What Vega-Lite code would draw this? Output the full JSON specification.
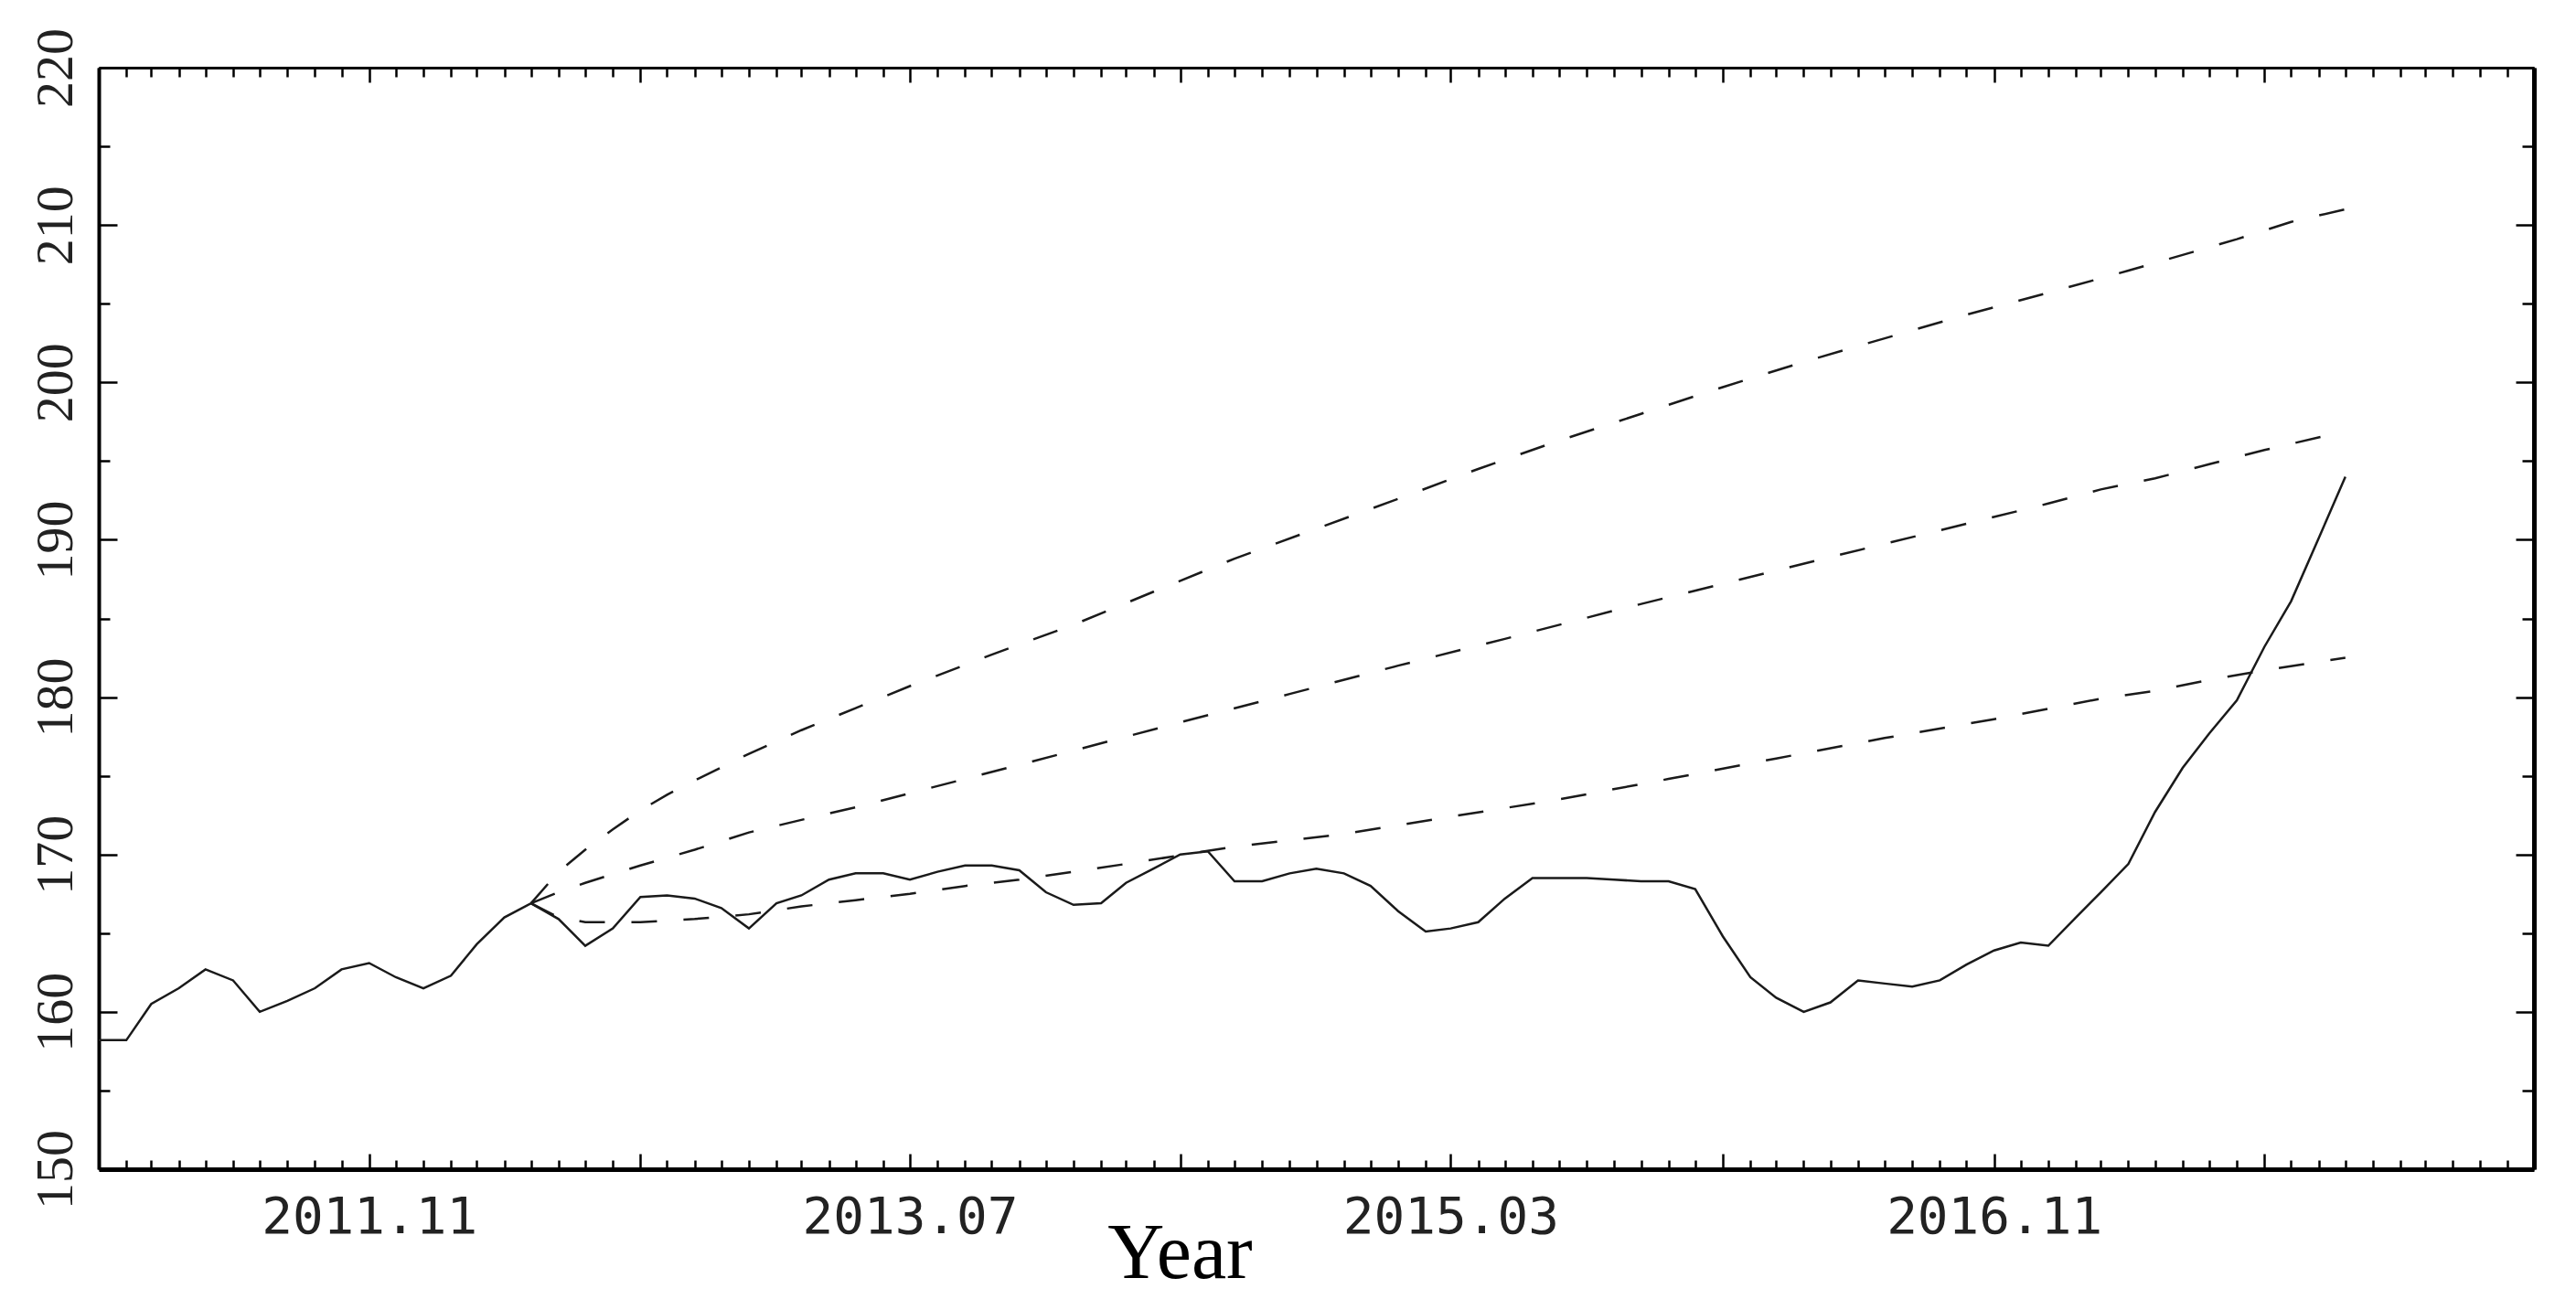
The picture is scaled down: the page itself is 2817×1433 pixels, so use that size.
{
  "$schema": "https://vega.github.io/schema/vega-lite/v6.json",
  "autosize": {"type": "none"},
  "padding": {"left": 108, "top": 74, "right": 46, "bottom": 154},
  "width": 2663,
  "height": 1205,
  "background": "white",
  "config": {"view": {"stroke": null}},
  "data": {"values": [
    {"series":"Actual","date":"2011-01-01","value":158.2},
    {"series":"Actual","date":"2011-02-01","value":158.2},
    {"series":"Actual","date":"2011-03-01","value":160.5},
    {"series":"Actual","date":"2011-04-01","value":161.5},
    {"series":"Actual","date":"2011-05-01","value":162.7},
    {"series":"Actual","date":"2011-06-01","value":162.0},
    {"series":"Actual","date":"2011-07-01","value":160.0},
    {"series":"Actual","date":"2011-08-01","value":160.7},
    {"series":"Actual","date":"2011-09-01","value":161.5},
    {"series":"Actual","date":"2011-10-01","value":162.7},
    {"series":"Actual","date":"2011-11-01","value":163.1},
    {"series":"Actual","date":"2011-12-01","value":162.2},
    {"series":"Actual","date":"2012-01-01","value":161.5},
    {"series":"Actual","date":"2012-02-01","value":162.3},
    {"series":"Actual","date":"2012-03-01","value":164.3},
    {"series":"Actual","date":"2012-04-01","value":166.0},
    {"series":"Actual","date":"2012-05-01","value":166.9},
    {"series":"Actual","date":"2012-06-01","value":165.9},
    {"series":"Actual","date":"2012-07-01","value":164.2},
    {"series":"Actual","date":"2012-08-01","value":165.3},
    {"series":"Actual","date":"2012-09-01","value":167.3},
    {"series":"Actual","date":"2012-10-01","value":167.4},
    {"series":"Actual","date":"2012-11-01","value":167.2},
    {"series":"Actual","date":"2012-12-01","value":166.6},
    {"series":"Actual","date":"2013-01-01","value":165.3},
    {"series":"Actual","date":"2013-02-01","value":166.9},
    {"series":"Actual","date":"2013-03-01","value":167.4},
    {"series":"Actual","date":"2013-04-01","value":168.4},
    {"series":"Actual","date":"2013-05-01","value":168.8},
    {"series":"Actual","date":"2013-06-01","value":168.8},
    {"series":"Actual","date":"2013-07-01","value":168.4},
    {"series":"Actual","date":"2013-08-01","value":168.9},
    {"series":"Actual","date":"2013-09-01","value":169.3},
    {"series":"Actual","date":"2013-10-01","value":169.3},
    {"series":"Actual","date":"2013-11-01","value":169.0},
    {"series":"Actual","date":"2013-12-01","value":167.6},
    {"series":"Actual","date":"2014-01-01","value":166.8},
    {"series":"Actual","date":"2014-02-01","value":166.9},
    {"series":"Actual","date":"2014-03-01","value":168.2},
    {"series":"Actual","date":"2014-04-01","value":169.1},
    {"series":"Actual","date":"2014-05-01","value":170.0},
    {"series":"Actual","date":"2014-06-01","value":170.2},
    {"series":"Actual","date":"2014-07-01","value":168.3},
    {"series":"Actual","date":"2014-08-01","value":168.3},
    {"series":"Actual","date":"2014-09-01","value":168.8},
    {"series":"Actual","date":"2014-10-01","value":169.1},
    {"series":"Actual","date":"2014-11-01","value":168.8},
    {"series":"Actual","date":"2014-12-01","value":168.0},
    {"series":"Actual","date":"2015-01-01","value":166.4},
    {"series":"Actual","date":"2015-02-01","value":165.1},
    {"series":"Actual","date":"2015-03-01","value":165.3},
    {"series":"Actual","date":"2015-04-01","value":165.7},
    {"series":"Actual","date":"2015-05-01","value":167.2},
    {"series":"Actual","date":"2015-06-01","value":168.5},
    {"series":"Actual","date":"2015-07-01","value":168.5},
    {"series":"Actual","date":"2015-08-01","value":168.5},
    {"series":"Actual","date":"2015-09-01","value":168.4},
    {"series":"Actual","date":"2015-10-01","value":168.3},
    {"series":"Actual","date":"2015-11-01","value":168.3},
    {"series":"Actual","date":"2015-12-01","value":167.8},
    {"series":"Actual","date":"2016-01-01","value":164.8},
    {"series":"Actual","date":"2016-02-01","value":162.2},
    {"series":"Actual","date":"2016-03-01","value":160.9},
    {"series":"Actual","date":"2016-04-01","value":160.0},
    {"series":"Actual","date":"2016-05-01","value":160.6},
    {"series":"Actual","date":"2016-06-01","value":162.0},
    {"series":"Actual","date":"2016-07-01","value":161.8},
    {"series":"Actual","date":"2016-08-01","value":161.6},
    {"series":"Actual","date":"2016-09-01","value":162.0},
    {"series":"Actual","date":"2016-10-01","value":163.0},
    {"series":"Actual","date":"2016-11-01","value":163.9},
    {"series":"Actual","date":"2016-12-01","value":164.4},
    {"series":"Actual","date":"2017-01-01","value":164.2},
    {"series":"Actual","date":"2017-02-01","value":166.0},
    {"series":"Actual","date":"2017-03-01","value":167.6},
    {"series":"Actual","date":"2017-04-01","value":169.4},
    {"series":"Actual","date":"2017-05-01","value":172.7},
    {"series":"Actual","date":"2017-06-01","value":175.5},
    {"series":"Actual","date":"2017-07-01","value":177.7},
    {"series":"Actual","date":"2017-08-01","value":179.8},
    {"series":"Actual","date":"2017-09-01","value":183.2},
    {"series":"Actual","date":"2017-10-01","value":186.1},
    {"series":"Actual","date":"2017-11-01","value":190.1},
    {"series":"Actual","date":"2017-12-01","value":194.0},

    {"series":"Upper","date":"2012-05-01","value":166.9},
    {"series":"Upper","date":"2012-06-01","value":168.9},
    {"series":"Upper","date":"2012-07-01","value":170.3},
    {"series":"Upper","date":"2012-08-01","value":171.6},
    {"series":"Upper","date":"2012-09-01","value":172.8},
    {"series":"Upper","date":"2012-10-01","value":173.8},
    {"series":"Upper","date":"2012-11-01","value":174.7},
    {"series":"Upper","date":"2013-01-01","value":176.4},
    {"series":"Upper","date":"2013-03-01","value":177.9},
    {"series":"Upper","date":"2013-05-01","value":179.3},
    {"series":"Upper","date":"2013-07-01","value":180.7},
    {"series":"Upper","date":"2013-10-01","value":182.7},
    {"series":"Upper","date":"2014-01-01","value":184.6},
    {"series":"Upper","date":"2014-04-01","value":186.7},
    {"series":"Upper","date":"2014-07-01","value":188.8},
    {"series":"Upper","date":"2014-10-01","value":190.7},
    {"series":"Upper","date":"2015-01-01","value":192.6},
    {"series":"Upper","date":"2015-04-01","value":194.5},
    {"series":"Upper","date":"2015-07-01","value":196.3},
    {"series":"Upper","date":"2015-10-01","value":198.0},
    {"series":"Upper","date":"2016-01-01","value":199.7},
    {"series":"Upper","date":"2016-04-01","value":201.3},
    {"series":"Upper","date":"2016-07-01","value":202.8},
    {"series":"Upper","date":"2016-10-01","value":204.3},
    {"series":"Upper","date":"2017-01-01","value":205.7},
    {"series":"Upper","date":"2017-04-01","value":207.1},
    {"series":"Upper","date":"2017-06-01","value":208.1},
    {"series":"Upper","date":"2017-08-01","value":209.1},
    {"series":"Upper","date":"2017-10-01","value":210.2},
    {"series":"Upper","date":"2017-12-01","value":211.0},

    {"series":"Middle","date":"2012-05-01","value":166.9},
    {"series":"Middle","date":"2012-06-01","value":167.6},
    {"series":"Middle","date":"2012-07-01","value":168.2},
    {"series":"Middle","date":"2012-09-01","value":169.3},
    {"series":"Middle","date":"2012-11-01","value":170.3},
    {"series":"Middle","date":"2013-01-01","value":171.4},
    {"series":"Middle","date":"2013-03-01","value":172.2},
    {"series":"Middle","date":"2013-05-01","value":173.0},
    {"series":"Middle","date":"2013-09-01","value":174.8},
    {"series":"Middle","date":"2014-01-01","value":176.6},
    {"series":"Middle","date":"2014-05-01","value":178.4},
    {"series":"Middle","date":"2014-09-01","value":180.2},
    {"series":"Middle","date":"2015-01-01","value":182.0},
    {"series":"Middle","date":"2015-05-01","value":183.7},
    {"series":"Middle","date":"2015-09-01","value":185.5},
    {"series":"Middle","date":"2016-01-01","value":187.2},
    {"series":"Middle","date":"2016-05-01","value":188.9},
    {"series":"Middle","date":"2016-09-01","value":190.6},
    {"series":"Middle","date":"2017-01-01","value":192.3},
    {"series":"Middle","date":"2017-03-01","value":193.2},
    {"series":"Middle","date":"2017-05-01","value":193.9},
    {"series":"Middle","date":"2017-07-01","value":194.8},
    {"series":"Middle","date":"2017-09-01","value":195.7},
    {"series":"Middle","date":"2017-12-01","value":196.9},

    {"series":"Lower","date":"2012-05-01","value":166.9},
    {"series":"Lower","date":"2012-06-01","value":166.0},
    {"series":"Lower","date":"2012-07-01","value":165.7},
    {"series":"Lower","date":"2012-09-01","value":165.7},
    {"series":"Lower","date":"2012-11-01","value":165.9},
    {"series":"Lower","date":"2013-01-01","value":166.2},
    {"series":"Lower","date":"2013-03-01","value":166.7},
    {"series":"Lower","date":"2013-05-01","value":167.1},
    {"series":"Lower","date":"2013-07-01","value":167.5},
    {"series":"Lower","date":"2013-09-01","value":168.0},
    {"series":"Lower","date":"2013-11-01","value":168.4},
    {"series":"Lower","date":"2014-01-01","value":168.9},
    {"series":"Lower","date":"2014-03-01","value":169.4},
    {"series":"Lower","date":"2014-07-01","value":170.5},
    {"series":"Lower","date":"2014-11-01","value":171.3},
    {"series":"Lower","date":"2015-03-01","value":172.4},
    {"series":"Lower","date":"2015-07-01","value":173.5},
    {"series":"Lower","date":"2015-11-01","value":174.8},
    {"series":"Lower","date":"2016-03-01","value":176.1},
    {"series":"Lower","date":"2016-07-01","value":177.4},
    {"series":"Lower","date":"2016-11-01","value":178.6},
    {"series":"Lower","date":"2017-03-01","value":179.9},
    {"series":"Lower","date":"2017-05-01","value":180.4},
    {"series":"Lower","date":"2017-07-01","value":181.1},
    {"series":"Lower","date":"2017-09-01","value":181.7},
    {"series":"Lower","date":"2017-12-01","value":182.5}
  ]},
  "layer": [
    {
      "transform": [{"filter": "datum.series === 'Actual'"}],
      "mark": {"type": "line", "color": "#1a1a1a", "strokeWidth": 2.5},
      "encoding": {
        "x": {
          "field": "date", "type": "temporal",
          "scale": {"type": "utc", "domain": [{"year": 2011, "month": 1, "date": 1, "utc": true}, {"year": 2018, "month": 7, "date": 1, "utc": true}], "nice": false},
          "axis": {
            "orient": "bottom",
            "grid": false,
            "tickCount": {"interval": "month", "step": 1},
            "tickSize": {"condition": {"test": "((utcyear(datum.value)-2011)*12 + utcmonth(datum.value)) % 10 === 0", "value": -17}, "value": -10},
            "tickWidth": 2.5,
            "tickColor": "#000",
            "domainWidth": 5,
            "domainColor": "#000",
            "labelExpr": "(((utcyear(datum.value)-2011)*12 + utcmonth(datum.value)) % 20 === 10 && ((utcyear(datum.value)-2011)*12 + utcmonth(datum.value)) < 85) ? utcFormat(datum.value, '%Y.%m') : ''",
            "labelFont": "DejaVu Sans Mono",
            "labelFontSize": 56,
            "labelColor": "#222",
            "labelAngle": 0,
            "labelAlign": "center",
            "labelBaseline": "top",
            "labelPadding": 42,
            "labelLimit": 1000,
            "labelOverlap": false,
            "labelFlush": false,
            "labelBound": false,
            "title": "Year",
            "titleFont": "Liberation Serif",
            "titleFontSize": 86,
            "titleFontWeight": "normal",
            "titleColor": "#000",
            "titleX": 1182,
            "titleY": 118,
            "titleAlign": "center",
            "titleBaseline": "alphabetic"
          }
        },
        "y": {
          "field": "value", "type": "quantitative",
          "scale": {"domain": [150, 220], "nice": false, "zero": false},
          "axis": {
            "orient": "left",
            "grid": false,
            "values": [150,155,160,165,170,175,180,185,190,195,200,205,210,215,220],
            "tickSize": {"condition": {"test": "datum.value % 10 === 0", "value": -20}, "value": -12},
            "tickWidth": 2.5,
            "tickColor": "#000",
            "domainWidth": 4,
            "domainColor": "#000",
            "labelExpr": "datum.value % 10 === 0 ? datum.label : ''",
            "labelFont": "Liberation Sans Narrow",
            "labelFontSize": 58,
            "labelColor": "#222",
            "labelAngle": 270,
            "labelAlign": "center",
            "labelBaseline": "alphabetic",
            "labelPadding": 50,
            "labelLimit": 1000,
            "labelOverlap": false,
            "labelFlush": false,
            "labelBound": false,
            "title": null
          }
        }
      }
    },
    {
      "transform": [{"filter": "datum.series !== 'Actual'"}],
      "mark": {"type": "line", "color": "#1a1a1a", "strokeWidth": 2.5, "strokeDash": [28, 29]},
      "encoding": {
        "detail": {"field": "series"},
        "x": {
          "field": "date", "type": "temporal",
          "scale": {"type": "utc", "domain": [{"year": 2011, "month": 1, "date": 1, "utc": true}, {"year": 2018, "month": 7, "date": 1, "utc": true}], "nice": false},
          "axis": {
            "orient": "top",
            "grid": false,
            "tickCount": {"interval": "month", "step": 1},
            "tickSize": {"condition": {"test": "((utcyear(datum.value)-2011)*12 + utcmonth(datum.value)) % 10 === 0", "value": -16}, "value": -10},
            "tickWidth": 2.5,
            "tickColor": "#000",
            "domainWidth": 3,
            "domainColor": "#000",
            "labels": false,
            "title": null
          }
        },
        "y": {
          "field": "value", "type": "quantitative",
          "scale": {"domain": [150, 220], "nice": false, "zero": false},
          "axis": {
            "orient": "right",
            "grid": false,
            "values": [150,155,160,165,170,175,180,185,190,195,200,205,210,215,220],
            "tickSize": {"condition": {"test": "datum.value % 10 === 0", "value": -20}, "value": -13},
            "tickWidth": 2.5,
            "tickColor": "#000",
            "domainWidth": 5,
            "domainColor": "#000",
            "labels": false,
            "title": null
          }
        }
      }
    }
  ],
  "resolve": {"axis": {"x": "independent", "y": "independent"}}
}
